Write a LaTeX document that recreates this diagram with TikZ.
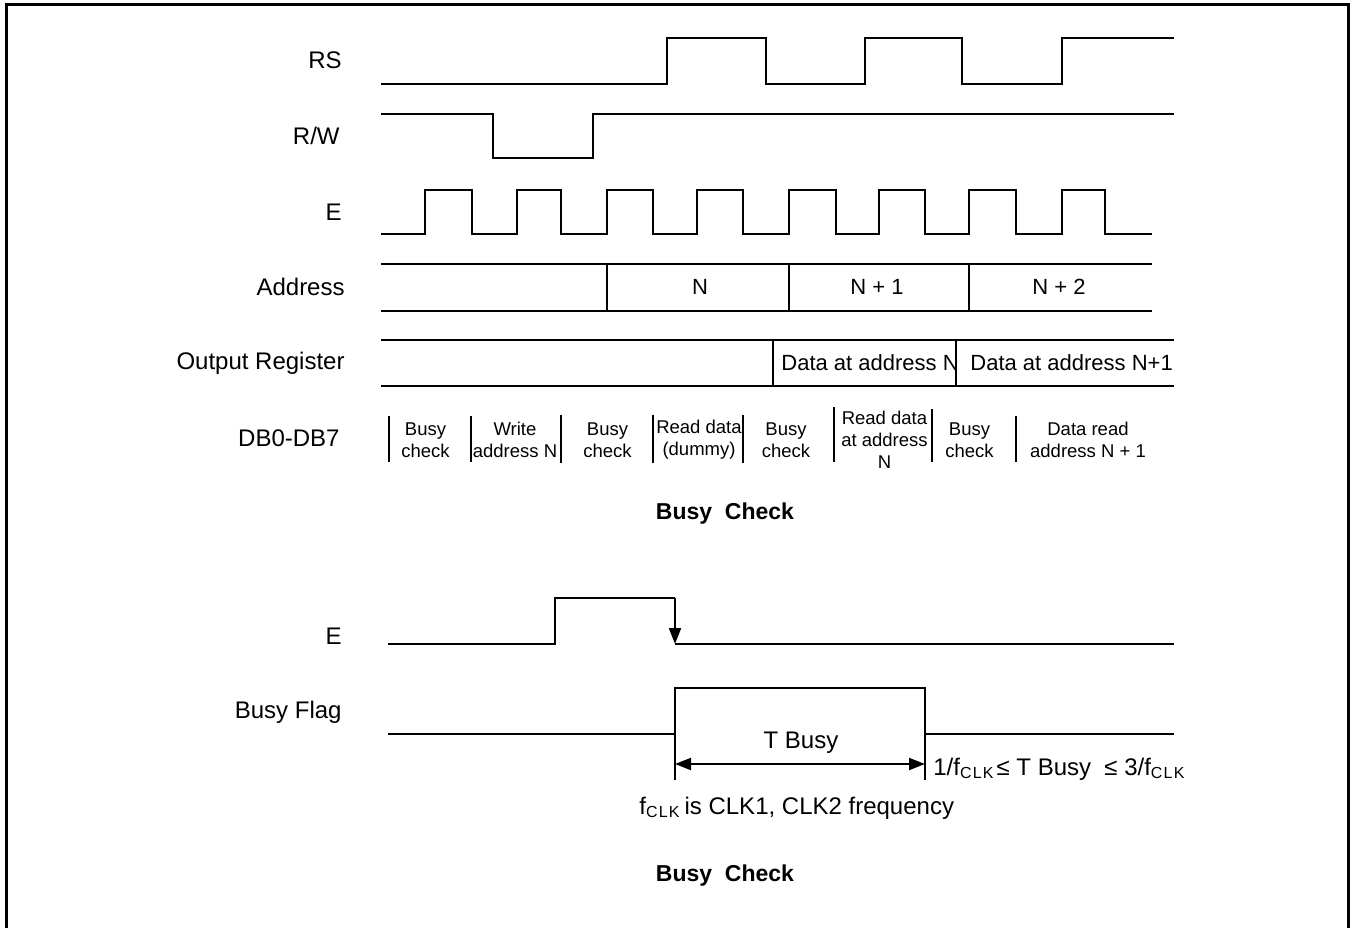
\documentclass[tikz,border=0pt]{standalone}
\usepackage{fontspec}
\setmainfont{Liberation Sans}
\usepackage{tikz}
\usetikzlibrary{arrows.meta}

\newcommand{\lblsize}{\fontsize{12}{14}\selectfont}
\newcommand{\bussize}{\fontsize{11}{13}\selectfont}
\newcommand{\dbsize}{\fontsize{9.25}{11}\selectfont}
\newcommand{\clk}{\textsubscript{C\kern0.6pt L\kern0.6pt K}}

\tikzset{
  wave/.style={line width=1pt},
  boxline/.style={line width=1.5pt},
  lbl/.style={anchor=east, inner sep=0pt, font=\lblsize},
  txt/.style={inner sep=0pt, font=\lblsize},
  bus/.style={inner sep=0pt, font=\bussize},
  db/.style={inner sep=0pt, align=center, font=\dbsize},
  heading/.style={inner sep=0pt, font=\bfseries\fontsize{11.5}{13}\selectfont},
  head tip/.style={-{Triangle[length=8pt,width=6pt]}},
  dimarrow/.style={line width=1pt, {Triangle[length=8pt,width=6pt]}-{Triangle[length=8pt,width=6pt]}}
}

\begin{document}
\begin{tikzpicture}[x=0.5pt, y=-0.5pt]
\useasboundingbox (0,0) rectangle (1357,928);

\draw[boxline] (6,928)--(6,4)--(1348.5,4)--(1348.5,928);

\begin{scope}
\draw[wave] (381,84)--(667,84)--(667,38)--(766,38)--(766,84)--(865,84)--(865,38)--(962,38)--(962,84)--(1062,84)--(1062,38)--(1174,38);
\draw[wave] (381,114)--(493,114)--(493,158)--(593,158)--(593,114)--(1174,114);
\draw[wave] (381,234)--(425,234)--(425,190)--(472,190)--(472,234)--(517,234)--(517,190)--(561,190)--(561,234)--(607,234)--(607,190)--(653,190)--(653,234)--(697,234)--(697,190)--(743,190)--(743,234)--(789,234)--(789,190)--(836,190)--(836,234)--(879,234)--(879,190)--(925,190)--(925,234)--(969,234)--(969,190)--(1016,190)--(1016,234)--(1062,234)--(1062,190)--(1105,190)--(1105,234)--(1152,234);

\draw[wave] (381,264)--(1152,264) (381,311)--(1152,311);
\draw[wave] (607,264)--(607,311) (789,264)--(789,311) (969,264)--(969,311);

\draw[wave] (381,340)--(1174,340) (381,386)--(1174,386);
\draw[wave] (773,340)--(773,386) (956,340)--(956,386);

\draw[wave] (389,416)--(389,462) (471,416)--(471,462) (561,415)--(561,463) (653,415)--(653,463);
\draw[wave] (743,415)--(743,463) (834,407)--(834,462) (932,409)--(932,462) (1016,416)--(1016,462);

\node[lbl] (rs) at (342,60) {RS};
\node[lbl] (rw) at (340,136) {R/W};
\node[lbl] (e) at (342,212) {E};
\node[lbl] (addr) at (345,287) {Address};
\node[lbl] (outreg) at (345,363) {Output Register};
\node[lbl] (db) at (340,438) {DB0-DB7};

\node[bus] (addrn) at (700,287) {N};
\node[bus] (addrn1) at (877,287) {N + 1};
\node[bus] (addrn2) at (1059,287) {N + 2};
\node[bus, anchor=west] (datan) at (781,363) {Data at address N};
\node[bus, anchor=west] (datan1) at (970,363) {Data at address N+1};

\node[db] (bc1) at (425.5,440) {Busy\\check};
\node[db] (wr) at (515,440) {Write\\address N};
\node[db] (bc2) at (607.5,440) {Busy\\check};
\node[db] (rd) at (699,440) {Read data\\(dummy)};
\node[db] (bc3) at (786,440) {Busy\\check};
\node[db] (rdn) at (884.5,440) {Read data\\at address\\N};
\node[db] (bc4) at (969.5,440) {Busy\\check};
\node[db] (rdn1) at (1088,440) {Data read\\address N + 1};

\node[heading] (head1) at (725,514) {Busy\ \ Check};
\end{scope}

\begin{scope}
\draw[wave] (388,644)--(555,644)--(555,598)--(675,598);
\draw[wave, head tip] (675,598)--(675,644);
\draw[wave] (675,644)--(1174,644);

\draw[wave] (388,734)--(675,734);
\draw[wave] (675,780)--(675,688)--(925,688)--(925,780);
\draw[wave] (925,734)--(1174,734);

\coordinate (tb1) at (675,764);
\coordinate (tb2) at (925,764);
\draw[dimarrow] (tb1)--(tb2);

\node[lbl] (e2) at (342,636) {E};
\node[lbl] (bf) at (342,712) {Busy Flag};
\node[txt, anchor=base] (tbusy) at (801,748) {T Busy};
\node[txt, anchor=base west] (range) at (933,775) {1/f\clk\kern1pt≤ T Busy\ \ ≤ 3/f\clk};
\node[txt, anchor=base west] (fclk) at (639,814) {f\clk\kern2pt is CLK1, CLK2 frequency};

\node[heading] (head2) at (725,876) {Busy\ \ Check};
\end{scope}

\end{tikzpicture}
\end{document}
